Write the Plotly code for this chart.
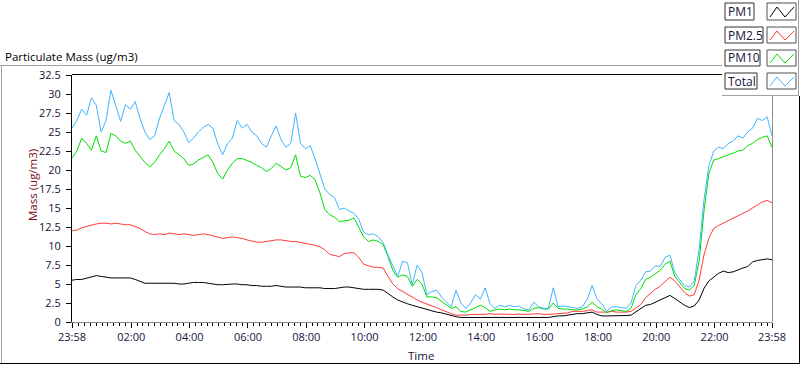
import plotly.graph_objects as go
import pandas as pd

# ---------------- data ----------------
start_time = "2023-01-01 23:58"
end_time = "2023-01-02 23:58"
sample_step = "10min"

pm1 = [5.5, 5.6, 5.6, 5.8, 5.9, 6.1, 6.0, 5.9, 5.8, 5.8,
       5.8, 5.8, 5.8, 5.6, 5.3, 5.1, 5.1, 5.1, 5.1, 5.1,
       5.1, 5.1, 5.0, 5.0, 5.1, 5.2, 5.2, 5.2, 5.1, 5.0,
       4.9, 4.9, 5.0, 5.0, 5.0, 4.9, 4.9, 4.8, 4.8, 4.7,
       4.7, 4.7, 4.8, 4.7, 4.6, 4.6, 4.6, 4.6, 4.5, 4.5,
       4.5, 4.5, 4.4, 4.4, 4.4, 4.5, 4.6, 4.6, 4.5, 4.4,
       4.3, 4.3, 4.3, 4.3, 4.2, 3.7, 3.3, 2.9, 2.6, 2.4,
       2.2, 2.0, 1.8, 1.6, 1.5, 1.3, 1.2, 1.0, 0.8, 0.7,
       0.6, 0.6, 0.6, 0.6, 0.6, 0.6, 0.6, 0.6, 0.6, 0.6,
       0.6, 0.6, 0.6, 0.6, 0.6, 0.6, 0.6, 0.6, 0.6, 0.7,
       0.8, 0.8, 0.9, 1.0, 1.1, 1.1, 1.2, 1.3, 1.0, 0.8,
       0.8, 0.8, 0.8, 0.8, 0.85, 0.9, 1.3, 1.7, 2.2, 2.3,
       2.6, 2.9, 3.3, 3.5, 3.1, 2.6, 2.2, 1.9, 2.1, 2.9,
       4.4, 5.4, 5.9, 6.4, 6.7, 6.5, 6.6, 6.9, 7.1, 7.3,
       7.9, 8.1, 8.2, 8.3, 8.2]

pm25 = [12.0, 12.1, 12.4, 12.6, 12.8, 12.9, 13.0, 13.0, 12.9, 13.0,
        12.9, 12.8, 12.8, 12.6, 12.3, 11.9, 11.6, 11.5, 11.6, 11.5,
        11.7, 11.6, 11.5, 11.6, 11.5, 11.4, 11.5, 11.6, 11.5, 11.3,
        11.1, 11.0, 11.1, 11.2, 11.1, 11.0, 10.8, 10.6, 10.5, 10.5,
        10.6, 10.7, 10.8, 10.8, 10.7, 10.6, 10.6, 10.5, 10.4, 10.3,
        10.1, 9.9, 9.5, 8.9, 8.7, 8.6, 9.0, 9.1, 9.1, 8.5,
        7.6, 7.4, 7.2, 7.2, 7.1, 6.0, 5.0, 4.4, 4.0, 3.6,
        3.3, 2.9, 2.6, 2.4, 2.1, 1.9, 1.6, 1.3, 1.1, 0.9,
        0.9, 0.9, 1.0, 1.0, 1.0, 1.0, 1.1, 1.0, 1.05, 1.0,
        1.0, 1.0, 1.05, 1.0, 1.0, 1.05, 1.1, 1.0, 1.0, 1.05,
        1.1, 1.2, 1.2, 1.4, 1.4, 1.4, 1.5, 1.6, 1.3, 1.3,
        1.3, 1.4, 1.3, 1.3, 1.3, 1.4, 1.9, 2.3, 3.2, 3.8,
        4.3, 4.7, 5.3, 5.9, 5.4, 4.6, 3.9, 3.4, 3.6, 5.5,
        8.8, 11.0, 12.3, 12.7, 13.0, 13.3, 13.6, 14.0, 14.2, 14.6,
        15.0, 15.4, 15.8, 16.0, 15.7]

pm10 = [21.6, 22.5, 24.2, 23.5, 22.6, 24.5, 22.5, 22.3, 24.8, 24.5,
        23.8, 23.5, 23.8, 22.6, 21.8, 21.0, 20.4, 21.0, 22.0, 22.8,
        23.8, 22.5, 22.0, 21.5, 20.6, 20.8, 21.3, 21.7, 22.0, 21.0,
        19.5, 18.8, 20.0, 20.9, 21.5, 21.5, 21.3, 21.0, 20.6, 20.3,
        19.8, 20.2, 20.9, 20.5, 20.0, 20.3, 22.0, 19.2, 19.0, 19.3,
        18.7, 17.0, 14.8, 14.1, 13.8, 13.2, 13.3, 13.4, 13.7, 12.5,
        11.2, 10.6, 10.8, 10.6, 10.2, 8.6, 6.8, 5.9, 6.2, 6.0,
        4.7, 5.6, 5.0, 3.3, 3.3, 3.2, 2.7, 2.2, 1.8, 2.0,
        1.4, 1.3, 1.6, 1.8, 2.2, 1.9, 1.4, 1.6, 1.7, 1.6,
        1.7, 1.6, 1.6, 1.5, 1.4, 1.8, 1.9, 1.7, 1.7, 2.5,
        1.8, 1.7, 1.7, 1.6, 1.6, 1.7, 2.0, 2.6, 2.0, 1.7,
        1.2, 1.5, 1.6, 1.5, 1.4, 1.8, 3.6, 4.4, 5.6, 5.9,
        6.3, 6.8, 7.6, 8.0, 6.0, 5.2, 4.4, 4.2, 4.8, 8.0,
        14.5, 19.5, 21.3, 21.5, 21.8, 22.0, 22.2, 22.5, 22.6, 23.2,
        23.5, 24.0, 24.3, 24.5, 23.0]

total = [25.5, 26.5, 28.0, 27.2, 29.5, 28.5, 25.0, 26.5, 30.5, 28.5,
         26.4, 28.6, 28.0, 29.0, 26.8, 25.0, 24.0, 24.5, 26.8, 28.5,
         30.2, 26.5, 26.0, 25.0, 23.6, 24.2, 25.0, 25.6, 26.0, 25.5,
         23.4, 22.0, 23.5, 24.2, 26.5, 25.5, 26.0, 25.0, 24.5, 23.5,
         23.0, 24.5, 25.8, 24.0, 23.0, 23.5, 27.5, 23.5, 22.8, 23.2,
         21.5, 19.5, 17.5, 16.8, 16.4, 14.8, 15.0, 14.6, 14.3, 13.5,
         11.8, 11.5, 11.6, 11.2, 10.5, 8.8, 7.5, 6.0, 8.0, 7.8,
         4.9, 7.5, 6.5, 3.6, 4.0, 4.2, 3.3, 2.6, 2.0, 4.2,
         2.5, 1.8, 2.5, 3.6, 3.0, 4.5, 2.4, 1.8, 2.2, 2.0,
         2.2, 2.0, 2.1, 1.7, 1.6, 2.6, 2.0, 1.8, 1.8, 4.5,
         2.0, 2.1, 2.0, 1.9, 1.8, 2.0, 3.0, 4.8, 3.0, 2.4,
         1.4, 2.0, 2.0, 1.9, 1.8, 2.5, 4.8, 5.5, 6.6, 6.7,
         7.4, 7.3, 8.5, 8.8, 6.5, 5.6, 4.8, 4.6, 5.4, 9.5,
         16.0, 20.5, 22.5, 23.0, 22.8, 23.5, 23.8, 24.5, 24.2, 25.0,
         25.5, 26.8, 26.5, 27.0, 24.5]

series_names = ["PM1", "PM2.5", "PM10", "Total"]
series_values = [pm1, pm25, pm10, total]

tick_times = ["2023-01-01 23:58", "2023-01-02 02:00", "2023-01-02 04:00",
              "2023-01-02 06:00", "2023-01-02 08:00", "2023-01-02 10:00",
              "2023-01-02 12:00", "2023-01-02 14:00", "2023-01-02 16:00",
              "2023-01-02 18:00", "2023-01-02 20:00", "2023-01-02 22:00",
              "2023-01-02 23:58"]
tick_labels = ["23:58", "02:00", "04:00", "06:00", "08:00", "10:00", "12:00",
               "14:00", "16:00", "18:00", "20:00", "22:00", "23:58"]

times = pd.date_range(start_time, end_time, freq=sample_step)
for v in series_values:
    assert len(v) == len(times)

# ---------------- styles / layout ----------------
series_colors = ["#000000", "#FF3B3B", "#00DD00", "#3DB5FF"]
FONT = "Open Sans"
TXT = "#14143a"

W, H = 800, 365
L, R, T, B = 72, 28, 75, 43
PW, PH = W - L - R, H - T - B


def PX(x):
    return (x - L) / PW


def PY(y):
    return (H - B - y) / PH


fig = go.Figure()
for name, vals, col in zip(series_names, series_values, series_colors):
    fig.add_trace(go.Scatter(x=times, y=vals, mode="lines", name=name,
                             line=dict(color=col, width=1)))

shapes = []


def hline(x0, x1, y, color, layer="above"):
    shapes.append(dict(type="line", xref="paper", yref="paper",
                       x0=PX(x0), x1=PX(x1), y0=PY(y), y1=PY(y),
                       line=dict(color=color, width=1), layer=layer))


def vline(x, y0, y1, color, layer="above"):
    shapes.append(dict(type="line", xref="paper", yref="paper",
                       x0=PX(x), x1=PX(x), y0=PY(y0), y1=PY(y1),
                       line=dict(color=color, width=1), layer=layer))


# plot frame (top black, right gray)
hline(72, 772.5, 74.5, "#000000")
vline(772.5, 74.5, 322, "#8c8c8c")
# outer frame
hline(0, 722, 65.5, "#a0a0a0")
vline(1.5, 65.5, 363.5, "#a0a0a0")
hline(0, 799.5, 363.5, "#000000")
vline(799.5, 96, 363.5, "#000000")

# legend panel
shapes.append(dict(type="rect", xref="paper", yref="paper",
                   x0=PX(722), x1=PX(800), y0=PY(0), y1=PY(95.5),
                   fillcolor="white", line=dict(width=0), layer="above"))
hline(722, 798.5, 95.5, "#a0a0a0")
vline(798.5, 0, 95.5, "#a0a0a0")

legend_rows = [(3, 20, 754), (27, 43, 763), (50, 66, 760), (73, 89, 757)]
annotations = []
for (y0, y1, lx1), name, col in zip(legend_rows, series_names, series_colors):
    shapes.append(dict(type="rect", xref="paper", yref="paper",
                       x0=PX(725), x1=PX(lx1), y0=PY(y0), y1=PY(y1),
                       fillcolor="white", line=dict(color="#303030", width=1),
                       layer="above"))
    shapes.append(dict(type="rect", xref="paper", yref="paper",
                       x0=PX(767), x1=PX(796), y0=PY(y0), y1=PY(y1),
                       fillcolor="white", line=dict(color="#505050", width=1),
                       layer="above"))
    pts = [(770, y1 - 3), (777, y0 + 4), (785, y1 - 3), (794, y0 + 4)]
    path = "M " + " L ".join(f"{PX(a)},{PY(b)}" for a, b in pts)
    shapes.append(dict(type="path", xref="paper", yref="paper", path=path,
                       line=dict(color=col, width=1), layer="above"))
    annotations.append(dict(text=name, xref="paper", yref="paper",
                            x=PX(726), y=PY((y0 + y1) / 2), xanchor="left",
                            yanchor="middle", showarrow=False,
                            font=dict(family=FONT, size=12, color=TXT)))

annotations += [
    dict(text="Particulate Mass (ug/m3)", xref="paper", yref="paper",
         x=PX(3), y=PY(56), xanchor="left", yanchor="middle", showarrow=False,
         font=dict(family=FONT, size=11.5, color="#000000")),
    dict(text="Mass (ug/m3)", xref="paper", yref="paper", textangle=-90,
         x=PX(32), y=PY(185), xanchor="center", yanchor="middle",
         showarrow=False, font=dict(family=FONT, size=11.5, color="#7a0a14")),
    dict(text="Time", xref="paper", yref="paper",
         x=PX(421), y=PY(355), xanchor="center", yanchor="middle",
         showarrow=False, font=dict(family=FONT, size=11.5, color=TXT)),
]

fig.update_layout(
    width=W, height=H,
    margin=dict(l=L, r=R, t=T, b=B, pad=0),
    paper_bgcolor="white", plot_bgcolor="white",
    showlegend=False,
    font=dict(family=FONT, size=11, color=TXT),
    shapes=shapes, annotations=annotations,
    xaxis=dict(type="date", range=[start_time, end_time],
               tickmode="array", tickvals=tick_times, ticktext=tick_labels,
               ticks="outside", ticklen=5, tickwidth=1, tickcolor="#000000",
               showline=True, linecolor="#8c8c8c", linewidth=1,
               showgrid=False, zeroline=False,
               tickfont=dict(family=FONT, size=11, color=TXT),
               minor=dict(ticks="outside", ticklen=3, tickcolor="#000000",
                          tickmode="linear", tick0="2023-01-02 00:00",
                          dtick=12 * 60 * 1000, showgrid=False)),
    yaxis=dict(range=[0, 32.5], tickmode="linear", tick0=0, dtick=2.5,
               ticks="outside", ticklen=5, tickwidth=1, tickcolor="#000000",
               ticklabelstandoff=3,
               showline=True, linecolor="#000000", linewidth=1,
               showgrid=False, zeroline=False,
               tickfont=dict(family=FONT, size=11, color=TXT)),
)

fig.write_html("out.html", config={"displayModeBar": False},
               post_script="document.body.style.margin='0px';"
                           "document.body.style.overflow='hidden';")
